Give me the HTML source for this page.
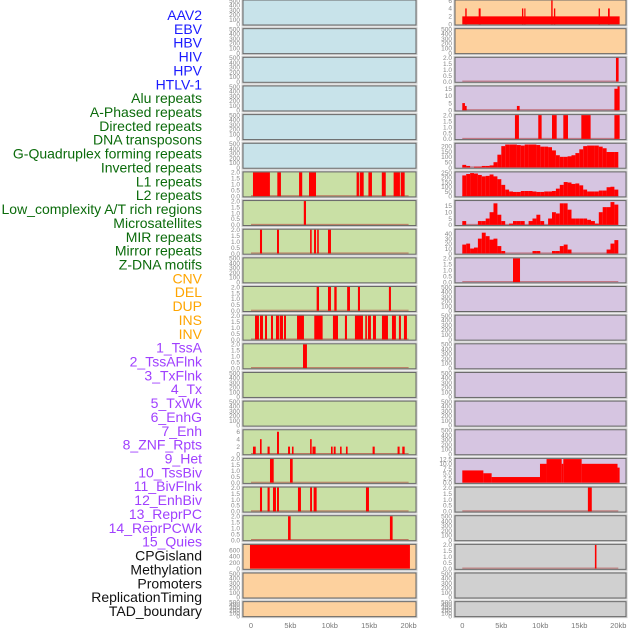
<!DOCTYPE html>
<html><head><meta charset="utf-8">
<style>
html,body{margin:0;padding:0;background:#fff;}
svg{display:block;}
.lbl{font-family:"Liberation Sans",sans-serif;font-size:14px;text-anchor:end;}
.tk{font-family:"Liberation Sans",sans-serif;font-size:6.5px;fill:#888;text-anchor:end;}
.xt{font-family:"Liberation Sans",sans-serif;font-size:7.5px;fill:#777;text-anchor:middle;}
</style></head>
<body>
<svg id="chart" width="630" height="630" viewBox="0 0 630 630" xmlns="http://www.w3.org/2000/svg"></svg>
<script>
// ---- track labels ----
const trackLabels = ["AAV2","EBV","HBV","HIV","HPV","HTLV-1","Alu repeats","A-Phased repeats","Directed repeats","DNA transposons","G-Quadruplex forming repeats","Inverted repeats","L1 repeats","L2 repeats","Low_complexity A/T rich regions","Microsatellites","MIR repeats","Mirror repeats","Z-DNA motifs","CNV","DEL","DUP","INS","INV","1_TssA","2_TssAFlnk","3_TxFlnk","4_Tx","5_TxWk","6_EnhG","7_Enh","8_ZNF_Rpts","9_Het","10_TssBiv","11_BivFlnk","12_EnhBiv","13_ReprPC","14_ReprPCWk","15_Quies","CPGisland","Methylation","Promoters","ReplicationTiming","TAD_boundary"];
const labelGroups = [6,13,5,15,5];
const xTickValues = [0,5,10,15,20];
const xTickLabels = ["0","5kb","10kb","15kb","20kb"];

// ---- left column intervals (kb) with value ----
const L6 = [[0.25,2.4,2],[3.34,3.8,2],[6.1,6.5,2],[7.36,8.25,2],[13.4,13.7,2],[13.8,14.3,2],[14.9,15.35,2],[16.6,17.1,2],[18.1,18.9,2],[19.0,19.5,2]];
const L7 = [[6.7,6.98,2]];
const L8 = [[1.14,1.4,2],[3.3,3.55,2],[7.5,7.7,2],[8.0,8.25,2],[8.4,8.6,2],[9.77,10.15,2]];
const L10 = [[8.33,8.63,2],[9.77,10.15,2],[10.57,10.87,2],[12.2,12.56,2],[13.57,13.83,2],[17.5,17.76,2]];
const L11 = [[0.51,1.01,2],[1.14,1.52,2],[1.78,2.03,2],[2.54,2.79,2],[3.17,3.55,2],[3.64,4.06,2],[4.19,4.44,2],[5.84,6.72,2],[8.03,9.09,2],[10.4,11.04,2],[11.92,12.18,2],[13.19,14.21,2],[14.5,14.71,2],[14.84,15.22,2],[15.48,15.86,2],[16.62,17.38,2],[17.89,18.39,2],[18.77,19.03,2],[19.41,19.79,2]];
const L12 = [[6.6,7.1,2]];
const L15 = [[0.25,0.6,2],[1.14,1.35,4],[2.1,2.37,2],[3.3,3.55,6],[4.7,4.95,2],[5.2,5.4,2],[7.5,7.7,4],[7.8,8.2,2],[10.15,10.36,2],[10.5,10.74,2],[11.3,11.5,2],[12.05,12.26,2],[15.43,15.7,2],[18.6,18.86,2],[19.2,19.5,2]];
const L16 = [[2.41,2.88,2],[4.95,5.29,2]];
const L17 = [[1.14,1.4,2],[2.1,2.37,2],[2.79,3.17,2],[3.3,3.55,2],[5.96,6.34,2],[7.5,7.74,2],[7.95,8.33,2],[14.59,14.97,2]];
const L18 = [[4.7,5.03,2],[17.63,17.97,2]];
const L19 = [[-0.13,20.17,780]];

// ---- right column intervals ----
const R0 = [[0,20.17,2],[0.38,0.56,4],[2.1,2.35,4],[7.65,7.82,4],[7.95,8.1,4],[11.4,11.58,6],[11.75,11.92,4],[17.48,17.65,4],[18.68,18.9,4]];
const R2 = [[19.7,20.04,2]];
const R3 = [[0,0.34,5],[0.34,0.56,3],[7.0,7.35,3],[19.5,19.9,15],[19.9,20.17,16.6]];
const R4 = [[6.75,7.26,2],[9.74,10.17,2],[11.5,12.1,2],[12.95,13.55,2],[15.26,16.45,2],[19.5,20.17,2]];
const R9 = [[6.5,7.4,2]];
const R16 = [[0,2.7,6.5],[2.7,3.76,5],[3.76,9.96,3],[9.96,10.8,10],[10.8,12.74,12.5],[12.74,12.95,10],[12.95,15.3,12.5],[15.3,19.9,10],[19.9,20.17,8]];
const R17 = [[16.1,16.6,2]];
const R19 = [[17.0,17.2,2]];

// ---- right column binned profiles (0.5kb bins) ----
const R5bins = [25,15,0,8,8,15,15,20,50,120,200,215,215,215,210,205,215,215,215,210,195,195,190,160,115,100,100,105,115,135,170,200,205,205,205,195,180,145,145,145];
const R6bins = [220,235,245,240,225,210,215,230,210,180,120,70,50,45,45,55,55,55,50,45,45,50,50,55,80,120,150,145,130,135,115,70,50,50,50,60,60,95,100,70];
const R7bins = [3,0,0,0,3,3,5,10,17,8,3,0,1,3,3,3,0,3,5,8,3,0,5,10,9,17,17,12,5,5,5,5,4,3,1,10,14,14,18,16];
const R8bins = [18,20,10,12,30,42,35,28,30,15,5,0,0,0,0,0,0,0,5,5,0,0,0,5,5,15,18,8,0,0,0,0,0,0,0,0,0,8,20,27];

// ---- tick sets ----
const tEmpty = ["0","100","200","300","400","500"], vEmpty=[0,100,200,300,400,500];
const tBin = ["0.0","0.5","1.0","1.5","2.0"], vBin=[0,0.5,1,1.5,2];

const BLUE="#c8e3ea", GREEN="#c9e0a5", PEACH="#fdd19e", LAV="#d6c5e1", GRAY="#d0d0d0";
function emptyP(bg){return {bg:bg,ymax:500,tv:vEmpty,tl:tEmpty,bars:[],bins:null};}
function binP(bg,b){return {bg:bg,ymax:2,tv:vBin,tl:tBin,bars:b,bins:null,base:true};}
const leftPanels = [];
for(let i=0;i<6;i++) leftPanels.push(emptyP(BLUE));
leftPanels.push(binP(GREEN,L6),binP(GREEN,L7),binP(GREEN,L8),emptyP(GREEN),binP(GREEN,L10),binP(GREEN,L11),binP(GREEN,L12),emptyP(GREEN),emptyP(GREEN));
leftPanels.push({bg:GREEN,ymax:6.4,tv:[0,2,4,6],tl:["0","2","4","6"],bars:L15,bins:null,base:true});
leftPanels.push(binP(GREEN,L16),binP(GREEN,L17),binP(GREEN,L18));
leftPanels.push({bg:PEACH,ymax:780,tv:[0,200,400,600],tl:["0","200","400","600"],bars:L19,bins:null});
leftPanels.push(emptyP(PEACH),emptyP(PEACH));
const rightPanels = [
 {bg:PEACH,ymax:6,tv:[0,2,4,6],tl:["0","2","4","6"],bars:R0,bins:null},
 emptyP(PEACH),
 binP(LAV,R2),
 {bg:LAV,ymax:16.6,tv:[0,5,10,15],tl:["0","5","10","15"],bars:R3,bins:null,base:true},
 binP(LAV,R4),
 {bg:LAV,ymax:222,tv:[0,50,100,150,200],tl:["0","50","100","150","200"],bars:[],bins:R5bins},
 {bg:LAV,ymax:252,tv:[0,50,100,150,200,250],tl:["0","50","100","150","200","250"],bars:[],bins:R6bins},
 {bg:LAV,ymax:18.8,tv:[0,5,10,15],tl:["0","5","10","15"],bars:[],bins:R7bins,base:true},
 {bg:LAV,ymax:48,tv:[0,10,20,30,40],tl:["0","10","20","30","40"],bars:[],bins:R8bins,base:true},
 binP(LAV,R9)
];
for(let i=10;i<16;i++) rightPanels.push(emptyP(LAV));
rightPanels.push({bg:LAV,ymax:12.6,tv:[0,2.5,5,7.5,10,12.5],tl:["0.0","2.5","5.0","7.5","10.0","12.5"],bars:R16,bins:null});
rightPanels.push(binP(GRAY,R17),emptyP(GRAY),binP(GRAY,R19),emptyP(GRAY),emptyP(GRAY));

const svg=document.getElementById('chart');
const NS="http://www.w3.org/2000/svg";
function el(t,a,p){const e=document.createElementNS(NS,t);for(const k in a)e.setAttribute(k,a[k]);(p||svg).appendChild(e);return e;}

// labels
const groupColors=["#1a1aff","#0b6b0b","#ffa500","#a040ff","#111"];
let gi=0,gc=0;
trackLabels.forEach((t,i)=>{
  const e=el('text',{x:202,y:20+i*13.86,'class':'lbl',fill:groupColors[gi]});
  e.textContent=t;
  
  
  gc++; if(gc>=labelGroups[gi]){gi++;gc=0;}
});

const cols=[{x0:243,w:173,sx:k=>251+k*7.88,tx:240,panels:leftPanels,name:'left'},
            {x0:455,w:171,sx:k=>462.3+k*7.8,tx:452,panels:rightPanels,name:'right'}];
cols.forEach(c=>{
  c.panels.forEach((p,r)=>{
    const top=r*28.65, h=(r===21?15:25);
    const g=el('g',{});
    
    
    el('rect',{x:c.x0-1,y:top-1,width:c.w+2,height:h+2,fill:'none',stroke:'#ccc','stroke-width':1},g);
    el('rect',{x:c.x0,y:top,width:c.w,height:h,fill:p.bg},g);
    const bot=top+h-0.7, sy=v=>bot-v/p.ymax*(h-1.2);
    const drawBar=(s,e,v)=>{
      const x1=Math.max(c.x0,c.sx(s)), x2=Math.min(c.x0+c.w,c.sx(e));
      if(v<=0||x2<=x1) return;
      const b=el('rect',{x:x1,y:sy(v),width:x2-x1,height:bot-sy(v),fill:'#ff0000'},g);
      
      
    };
    if(p.base||p.bins) el('line',{x1:c.sx(0),x2:c.sx(20),y1:bot-0.5,y2:bot-0.5,stroke:'#b03030','stroke-opacity':0.6,'stroke-width':1},g);
    p.bars.forEach(b=>drawBar(b[0],b[1],b[2]));
    if(p.bins) p.bins.forEach((v,i)=>drawBar(i*0.5,i*0.5+0.5,v));
    el('rect',{x:c.x0,y:top,width:c.w,height:h,fill:'none',stroke:'#666','stroke-width':1},g);
    p.tv.forEach((v,i)=>{
      const t=el('text',{x:c.tx,y:sy(v)+2.3,'class':'tk'},g);
      t.textContent=p.tl[i];
      
      
    });
  });
  xTickValues.forEach((v,i)=>{
    const t=el('text',{x:c.sx(v),y:628,'class':'xt'});
    t.textContent=xTickLabels[i];
    
    
  });
});
</script>
</body></html>
